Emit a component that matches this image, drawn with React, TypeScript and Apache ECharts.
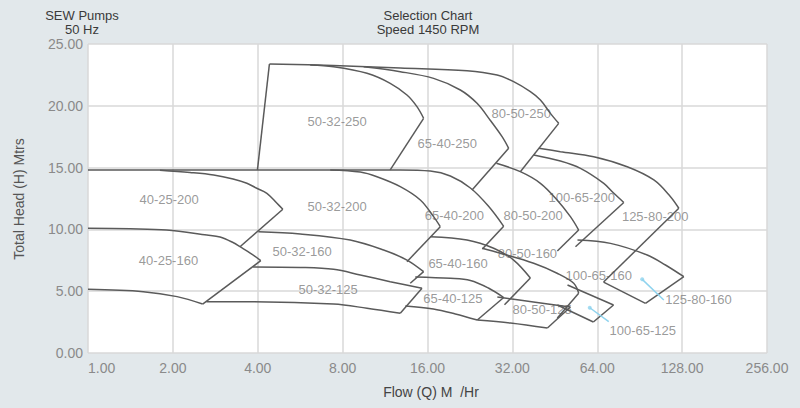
import React, { useEffect, useRef } from "react";
import * as echarts from "echarts";

// Axis ticks
const xTicks = [1, 2, 4, 8, 16, 32, 64, 128, 256];
const yTicks = [0, 5, 10, 15, 20, 25];

// Pump H-Q curves ending at the tip: [flow m3/h, head m]
const c_80_50_250 = [[4.4, 23.38], [7.41, 23.26], [12.81, 23.06], [22.1, 22.84], [28.25, 22.49], [32.33, 21.95], [37.06, 21.14], [40.23, 20.47], [43.66, 19.39], [46.72, 18.58]];
const c_50_32_250 = [[6.14, 23.3], [7.43, 23.16], [9.76, 22.63], [11.8, 21.82], [13.53, 20.87], [14.68, 19.93], [15.5, 18.99]];
const c_65_40_250 = [[9.5, 23.15], [12.81, 22.76], [16.82, 22.22], [20.92, 21.28], [23.98, 20.2], [26.74, 18.81], [29.42, 17.5], [31.05, 16.56]];
const c_65_40_200 = [[1, 14.81], [12.81, 14.81], [16.37, 14.72], [19.28, 14.32], [22.71, 13.35], [26.3, 11.89], [29.81, 10.25]];
const c_40_25_200 = [[1.8, 14.78], [2.3, 14.6], [2.79, 14.4], [3.27, 14.08], [3.66, 13.73], [3.95, 13.35], [4.31, 12.92], [4.68, 12.11], [4.91, 11.63]];
const c_50_32_200 = [[7.23, 14.81], [9.24, 14.64], [10.59, 14.26], [12.81, 13.46], [15.09, 12.38], [16.82, 11.03], [17.76, 10.22]];
const c_80_50_200 = [[28.08, 15.35], [34.15, 14.67], [40.23, 13.73], [46.1, 12.38], [51.4, 11.03], [55.0, 9.95]];
const c_100_65_200 = [[38.08, 16.02], [47.37, 15.53], [55.8, 14.94], [67.5, 13.73], [73.3, 12.92], [79.5, 12.18]];
const c_125_80_200 = [[39.7, 16.56], [47.37, 16.29], [62.2, 15.88], [81.73, 15.07], [101.6, 14.0], [116.4, 12.65], [124.6, 11.71]];
const c_40_25_160 = [[1, 10.09], [1.41, 10.05], [1.9, 9.95], [2.64, 9.55], [2.94, 9.39], [3.28, 8.92], [3.46, 8.6], [3.76, 8.09], [4.1, 7.47]];
const c_50_32_160 = [[4.02, 9.81], [5.66, 9.63], [8.51, 9.14], [11.18, 8.33], [13.53, 7.52], [15.5, 6.58]];
const c_65_40_160 = [[16.37, 9.41], [22.1, 9.14], [27.47, 8.47], [32.33, 7.52], [37.06, 6.07]];
const c_80_50_160 = [[24.99, 8.47], [29.0, 8.07], [38.08, 7.26], [46.1, 6.45], [52.8, 5.64], [55.0, 4.83]];
const c_125_80_160 = [[54.46, 9.14], [71.3, 8.87], [96.2, 7.93], [111.7, 7.12], [129.8, 6.17]];
const c_50_32_125 = [[3.85, 6.96], [5.66, 6.92], [7.43, 6.77], [9.24, 6.31], [11.8, 5.77], [15.3, 5.23]];
const c_65_40_125 = [[14.48, 6.15], [19.28, 6.04], [22.71, 5.87], [26.3, 5.26], [29.81, 4.49]];
const c_80_50_125 = [[28.3, 4.53], [38.0, 4.13], [51.4, 3.72]];
const c_100_65_125 = [[50.2, 5.5], [73.1, 3.88]];

// Lower (minimum impeller) boundary curves
const b_40_25_160 = [[1, 5.15], [1.57, 4.96], [2.07, 4.56], [2.55, 3.96]];
const b_50_32_125 = [[2.63, 4.15], [3.28, 4.15], [7.43, 3.96], [9.76, 3.62], [12.81, 3.21]];
const b_65_40_125 = [[13.35, 3.8], [16.78, 3.56], [20.08, 3.16], [24.03, 2.67]];
const b_80_50_125 = [[24.03, 2.67], [31.5, 2.43], [42.6, 2.02]];
const b_100_65_125 = [[46.2, 3.88], [62.0, 2.51]];
const b_125_80_160 = [[67.4, 5.74], [94.9, 4.02]];

// Straight right-hand limits: from tip to end
const d_50_32_250_left = [[3.99, 14.81], [4.4, 23.38]];
const d_80_50_250 = [[46.72, 18.58], [34.15, 14.67]];
const d_50_32_250 = [[15.5, 18.99], [11.8, 14.81]];
const d_65_40_250 = [[31.05, 16.56], [23.02, 13.19]];
const d_65_40_200 = [[29.81, 10.25], [25.04, 8.41]];
const d_40_25_200 = [[4.91, 11.63], [3.46, 8.6]];
const d_50_32_200 = [[17.76, 10.22], [13.53, 7.39]];
const d_80_50_200 = [[55.0, 9.95], [46.2, 8.25]];
const d_100_65_200 = [[79.5, 12.18], [53.57, 8.6]];
const d_125_80_200 = [[124.6, 11.71], [67.4, 5.74]];
const d_40_25_160 = [[4.1, 7.47], [2.55, 3.96]];
const d_50_32_160 = [[15.5, 6.58], [13.9, 5.64]];
const d_65_40_160 = [[37.06, 6.07], [30.0, 3.9]];
const d_80_50_160 = [[55.0, 4.83], [46.2, 2.83]];
const d_125_80_160 = [[129.8, 6.17], [94.9, 4.02]];
const d_50_32_125 = [[15.3, 5.23], [12.81, 3.21]];
const d_65_40_125 = [[29.81, 4.49], [24.03, 2.67]];
const d_80_50_125 = [[51.4, 3.72], [42.6, 2.02]];
const d_100_65_125 = [[73.1, 3.88], [62.0, 2.51]];

const smoothCurves = [
  c_80_50_250, c_50_32_250, c_65_40_250, c_65_40_200, c_40_25_200, c_50_32_200, c_80_50_200,
  c_100_65_200, c_125_80_200, c_40_25_160, c_50_32_160, c_65_40_160, c_80_50_160, c_125_80_160,
  c_50_32_125, c_65_40_125, c_80_50_125, c_100_65_125,
  b_40_25_160, b_50_32_125, b_65_40_125, b_80_50_125, b_100_65_125, b_125_80_160,
];
const straightLines = [
  d_50_32_250_left, d_80_50_250, d_50_32_250, d_65_40_250, d_65_40_200, d_40_25_200, d_50_32_200,
  d_80_50_200, d_100_65_200, d_125_80_200, d_40_25_160, d_50_32_160, d_65_40_160, d_80_50_160,
  d_125_80_160, d_50_32_125, d_65_40_125, d_80_50_125, d_100_65_125,
];

// Region labels
const labelNames = ["50-32-250", "65-40-250", "80-50-250", "40-25-200", "50-32-200", "65-40-200", "80-50-200", "100-65-200", "125-80-200", "40-25-160", "50-32-160", "65-40-160", "80-50-160", "100-65-160", "50-32-125", "65-40-125", "80-50-125", "125-80-160", "100-65-125"];
const labelFlow = [7.65, 18.8, 34.4, 1.94, 7.65, 19.92, 37.9, 56.4, 102.7, 1.93, 5.75, 20.53, 36.2, 64.8, 7.11, 19.68, 40.8, 146.3, 92.8];
const labelHead = [18.69, 16.99, 19.39, 12.38, 11.89, 11.11, 11.11, 12.6, 11.03, 7.52, 8.2, 7.26, 8.07, 6.31, 5.15, 4.42, 3.54, 4.29, 1.86];

// Leader lines (callouts)
const leader_125_80_160 = [[92.4, 5.96], [110.2, 4.29]];
const leader_100_65_125 = [[60.2, 3.66], [70.3, 2.53]];

const FONT = "'Liberation Sans', Arial, sans-serif";
const LINE = "#5a5a5a";

export default function App() {
  const ref = useRef<HTMLDivElement>(null);
  useEffect(() => {
    const chart = echarts.init(ref.current!, null, { renderer: "svg" });
    const series: any[] = [];
    smoothCurves.forEach((d) =>
      series.push({
        type: "line",
        data: d,
        symbol: "none",
        smooth: 0.35,
        lineStyle: { color: LINE, width: 1.5 },
        silent: true,
      })
    );
    straightLines.forEach((d) =>
      series.push({
        type: "line",
        data: d,
        symbol: "none",
        lineStyle: { color: LINE, width: 1.5 },
        silent: true,
      })
    );
    [leader_125_80_160, leader_100_65_125].forEach((d) => {
      series.push({
        type: "line",
        data: d,
        symbol: "none",
        lineStyle: { color: "#8fd3ee", width: 1.5 },
        silent: true,
      });
      series.push({
        type: "scatter",
        data: [d[0]],
        symbolSize: 4,
        itemStyle: { color: "#8fd3ee" },
        silent: true,
      });
    });
    series.push({
      type: "scatter",
      symbolSize: 0,
      silent: true,
      data: labelNames.map((n, i) => ({ name: n, value: [labelFlow[i], labelHead[i]] })),
      label: {
        show: true,
        position: "inside",
        formatter: "{b}",
        fontSize: 13,
        fontFamily: FONT,
        color: "#808080",
      },
    });

    chart.setOption({
      animation: false,
      backgroundColor: "#e2e8eb",
      grid: { left: 88, right: 33, top: 44, bottom: 55, show: true, backgroundColor: "#ffffff", borderWidth: 0 },
      xAxis: {
        type: "log",
        logBase: 2,
        min: xTicks[0],
        max: xTicks[xTicks.length - 1],
        splitNumber: xTicks.length - 1,
        axisLine: { show: false },
        axisTick: { show: false },
        splitLine: { show: true, lineStyle: { color: "#d9d9d9", width: 1.5 } },
        axisLabel: {
          formatter: (v: number) => v.toFixed(2),
          fontSize: 14,
          fontFamily: FONT,
          color: "#8a8a8a",
          margin: 8,
          alignMinLabel: "left",
        },
      },
      yAxis: {
        type: "value",
        min: yTicks[0],
        max: yTicks[yTicks.length - 1],
        interval: 5,
        axisLine: { show: false },
        axisTick: { show: false },
        splitLine: { show: true, lineStyle: { color: "#d9d9d9", width: 1.5 } },
        axisLabel: {
          formatter: (v: number) => v.toFixed(2),
          fontSize: 14,
          fontFamily: FONT,
          color: "#8a8a8a",
          margin: 5,
        },
      },
      graphic: [
        { type: "text", x: 82, y: 8, style: { text: "SEW Pumps\n50 Hz", align: "center", font: `13px ${FONT}`, fill: "#3a3a3a", lineHeight: 14 } },
        { type: "text", x: 428, y: 8, style: { text: "Selection Chart\nSpeed 1450 RPM", align: "center", font: `13px ${FONT}`, fill: "#3a3a3a", lineHeight: 14 } },
        { type: "text", x: 19, y: 199, rotation: Math.PI / 2, style: { text: "Total Head (H) Mtrs", align: "center", verticalAlign: "middle", font: `14px ${FONT}`, fill: "#555555" } },
        { type: "text", x: 431, y: 392, style: { text: "Flow (Q) M  /Hr", align: "center", verticalAlign: "middle", font: `14px ${FONT}`, fill: "#444444" } },
      ],
      series,
    });
    return () => chart.dispose();
  }, []);
  return <div ref={ref} style={{ width: 800, height: 408, position: "absolute", left: 0, top: 0 }} />;
}
